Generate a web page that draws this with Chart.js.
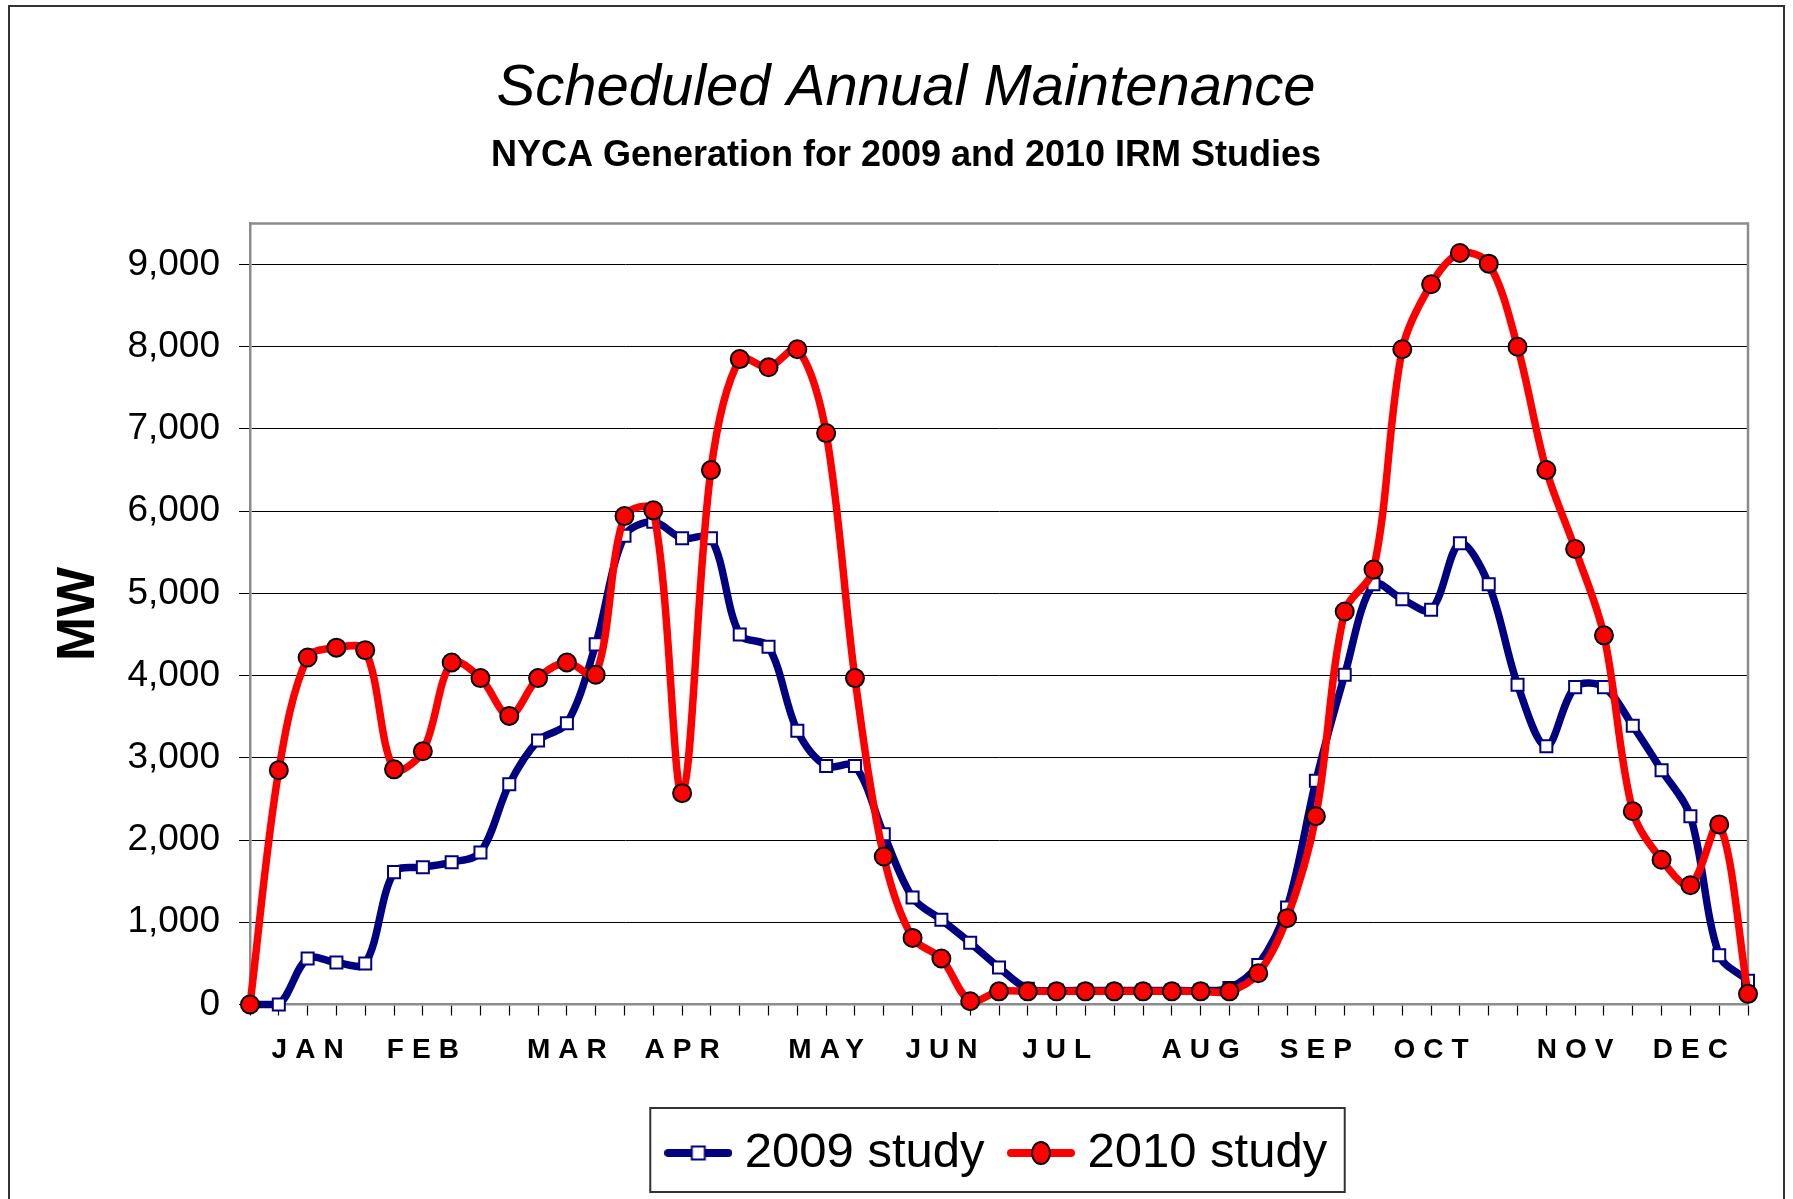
<!DOCTYPE html>
<html>
<head>
<meta charset="utf-8">
<script src="https://cdn.jsdelivr.net/npm/chart.js@4.4.1/dist/chart.umd.min.js"></script>
<style>
html,body{margin:0;padding:0;background:#fff;overflow:hidden;width:1793px;height:1199px;}
#frame{position:absolute;left:8px;top:5px;width:1777px;height:1300px;border:2px solid #333;box-sizing:border-box;}
#wrap{position:absolute;left:0;top:0;width:1793px;height:1199px;}
</style>
</head>
<body>
<div id="frame"></div>
<div id="wrap"><canvas id="c" width="1793" height="1199"></canvas></div>
<script>
// ---- data ----
const monthNames = ['JAN','FEB','MAR','APR','MAY','JUN','JUL','AUG','SEP','OCT','NOV','DEC'];
const monthWeekIndex = [2, 6, 11, 15, 20, 24, 28, 33, 37, 41, 46, 50];
const weekCount = 53;
const study2009 = [0, 0, 560, 510, 500, 1610, 1670, 1730, 1850, 2680, 3210, 3420, 4380, 5700,
  5870, 5670, 5670, 4500, 4350, 3330, 2900, 2900, 2070, 1300, 1030, 750, 450, 190,
  170, 170, 170, 170, 170, 170, 200, 480, 1180, 2720, 4010, 5110, 4930, 4800, 5610,
  5110, 3890, 3140, 3860, 3860, 3390, 2850, 2290, 600, 290];
const study2010 = [0, 2850, 4220, 4340, 4310, 2860, 3080, 4160, 3970, 3510, 3970, 4160, 4010, 5940,
  6010, 2570, 6500, 7850, 7750, 7970, 6950, 3970, 1800, 810, 560, 40, 160, 160,
  160, 160, 160, 160, 160, 160, 160, 380, 1050, 2290, 4780, 5290, 7970, 8760, 9140,
  9010, 8000, 6500, 5540, 4490, 2350, 1760, 1450, 2190, 130];
const yTickValues = [0, 1000, 2000, 3000, 4000, 5000, 6000, 7000, 8000, 9000];
const seriesNames = ['2009 study', '2010 study'];
const titleText = 'Scheduled Annual Maintenance';
const subtitleText = 'NYCA Generation for 2009 and 2010 IRM Studies';
const yTitleText = 'MW';

// category labels (one per week, month names on their week)
const weekLabels = [];
for (let i = 0; i < weekCount; i++) weekLabels.push('');
monthWeekIndex.forEach((w, k) => { weekLabels[w] = monthNames[k]; });

const FONT = "'Liberation Sans', Arial, sans-serif";
const BLUE = '#000080';
const RED = '#ff0000';

function makeIcon(kind) {
  const c = document.createElement('canvas');
  c.width = 68; c.height = 30;
  const g = c.getContext('2d');
  g.lineCap = 'round';
  g.lineWidth = 8;
  g.strokeStyle = kind === 'rect' ? BLUE : RED;
  g.beginPath(); g.moveTo(4, 15); g.lineTo(64, 15); g.stroke();
  if (kind === 'rect') {
    g.fillStyle = '#fff'; g.strokeStyle = BLUE; g.lineWidth = 2;
    g.fillRect(27.5, 8.5, 13, 13); g.strokeRect(27.5, 8.5, 13, 13);
  } else {
    g.fillStyle = RED; g.strokeStyle = '#000'; g.lineWidth = 2;
    g.beginPath(); g.ellipse(34, 15, 9, 11, 0, 0, Math.PI * 2); g.fill(); g.stroke();
  }
  return c;
}
const legendIcons = [makeIcon('rect'), makeIcon('circle')];

const layoutPlugin = {
  id: 'layoutTweaks',
  afterLayout(chart) {
    // x labels letter spacing
    const xs = chart.scales.x;
    if (!xs.__ls) {
      const orig = xs.drawLabels;
      xs.drawLabels = function (ca) {
        const ctx = this.ctx;
        ctx.save();
        try { ctx.letterSpacing = '8px'; } catch (e) {}
        ctx.translate(4, 0);
        orig.call(this, ca);
        ctx.restore();
      };
      xs.__ls = true;
    }
    // center legend on plot area
    const lg = chart.legend;
    if (lg && lg.lineWidths) {
      const pad = lg.options.labels.padding;
      const LW = lg.lineWidths[0];
      const cur = (lg.left + pad + lg.right - LW) / 2;
      const C = (chart.chartArea.left + chart.chartArea.right) / 2;
      const x0 = C - 1 - (LW - pad - 7.5) / 2;
      const dx = x0 - cur;
      lg.left += dx; lg.right += dx;
    }
  },
  beforeDatasetsDraw(chart) {
    const {ctx, chartArea: a} = chart;
    ctx.save();
    ctx.strokeStyle = '#8c8c8c';
    ctx.lineWidth = 2.5;
    ctx.beginPath();
    ctx.moveTo(a.left, a.top); ctx.lineTo(a.right, a.top); ctx.lineTo(a.right, a.bottom);
    ctx.stroke();
    ctx.restore();
  },
  afterDraw(chart) {
    const lg = chart.legend;
    const hb = lg.legendHitBoxes;
    if (!hb || !hb.length) return;
    const last = hb[hb.length - 1];
    const l = hb[0].left - 26;
    const r = last.left + last.width + 17.5;
    const t = hb[0].top - 20.5;
    const b = hb[0].top + hb[0].height + 14.5;
    const ctx = chart.ctx;
    ctx.save();
    ctx.strokeStyle = '#333';
    ctx.lineWidth = 2;
    ctx.strokeRect(l, t, r - l, b - t);
    ctx.restore();
  }
};

new Chart(document.getElementById('c'), {
  type: 'line',
  data: {
    labels: weekLabels,
    datasets: [
      {
        label: seriesNames[0],
        data: study2009,
        order: 1,
        borderColor: BLUE,
        borderWidth: 7.5,
        tension: 0.33,
        pointStyle: 'rect',
        pointRadius: 8.5,
        pointBackgroundColor: '#fff',
        pointBorderColor: BLUE,
        pointBorderWidth: 2,
        clip: false
      },
      {
        label: seriesNames[1],
        data: study2010,
        order: 0,
        borderColor: RED,
        borderWidth: 7.5,
        tension: 0.33,
        pointStyle: 'circle',
        pointRadius: 9,
        pointBackgroundColor: RED,
        pointBorderColor: '#000',
        pointBorderWidth: 2,
        clip: false
      }
    ]
  },
  options: {
    responsive: false,
    animation: false,
    devicePixelRatio: 1,
    layout: { padding: { left: 64, right: 45, top: 0, bottom: 11.5 } },
    plugins: {
      tooltip: { enabled: false },
      title: {
        display: true,
        text: titleText,
        color: '#000',
        font: { family: FONT, size: 58, style: 'italic', weight: 'normal', lineHeight: 1.2 },
        padding: { top: 54, bottom: 0 }
      },
      subtitle: {
        display: true,
        text: subtitleText,
        color: '#000',
        font: { family: FONT, size: 36, weight: 'bold', lineHeight: 1.2 },
        padding: { top: 11.2, bottom: 45.4 }
      },
      legend: {
        display: true,
        position: 'bottom',
        labels: {
          usePointStyle: true,
          pointStyleWidth: 44,
          padding: 34.5,
          color: '#000',
          font: { family: FONT, size: 49 },
          sort: (a, b) => a.datasetIndex - b.datasetIndex,
          generateLabels(chart) {
            const items = Chart.defaults.plugins.legend.labels.generateLabels(chart);
            items.forEach((it) => { it.pointStyle = legendIcons[it.datasetIndex]; });
            return items;
          }
        }
      }
    },
    scales: {
      x: {
        type: 'category',
        offset: false,
        afterFit(s) { s.height = 89.5; },
        grid: { display: true, drawOnChartArea: false, drawTicks: true, tickLength: 11, tickColor: '#000', tickWidth: 1.2 },
        border: { display: true, color: '#8c8c8c', width: 2.5 },
        ticks: {
          autoSkip: false, maxRotation: 0, minRotation: 0, padding: 18.2,
          color: '#000', font: { family: FONT, size: 28, weight: 'bold', lineHeight: 1.2 }
        }
      },
      y: {
        min: 0,
        max: 9500,
        afterFit(s) { s.width = 186; },
        afterBuildTicks(s) {
          s.ticks = yTickValues.map(v => ({ value: v }));
        },
        grid: { color: '#000', lineWidth: 1, drawTicks: true, tickLength: 11, tickColor: '#000' },
        border: { display: true, color: '#8c8c8c', width: 2.5 },
        ticks: {
          padding: 19, color: '#000',
          font: { family: FONT, size: 37, lineHeight: 1.2 },
          callback: (v) => Number(v).toLocaleString('en-US')
        },
        title: {
          display: true,
          text: yTitleText,
          color: '#000',
          font: { family: FONT, size: 53, weight: 'bold', lineHeight: 0.59 },
          padding: { top: 0, bottom: 0 }
        }
      }
    }
  },
  plugins: [layoutPlugin]
});
</script>
</body>
</html>
